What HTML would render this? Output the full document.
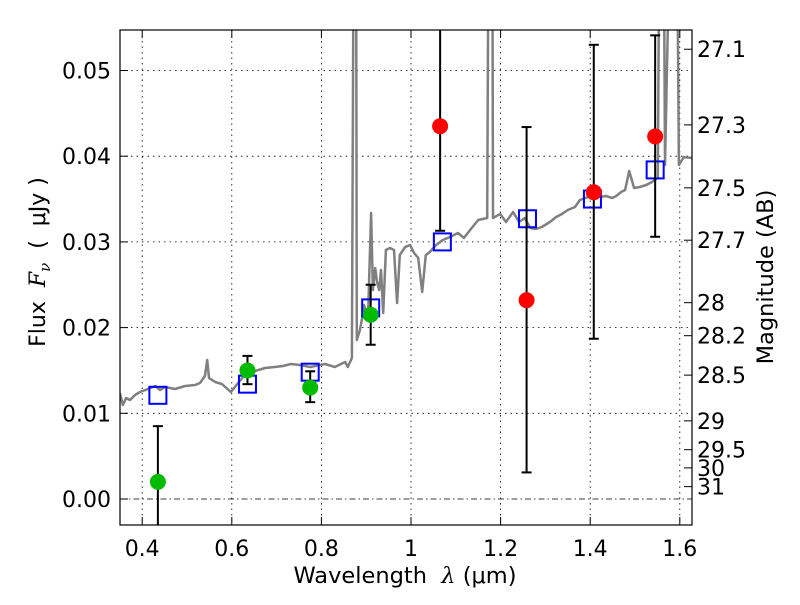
<!DOCTYPE html>
<html><head><meta charset="utf-8"><style>
body{margin:0;background:#fff}
svg text{font-family:"DejaVu Sans","Liberation Sans",sans-serif;fill:#000}
</style></head><body>
<svg id="chart" width="800" height="600" xmlns="http://www.w3.org/2000/svg">
<defs><clipPath id="pc"><rect x="120" y="30" width="572" height="495"/></clipPath></defs>
<rect width="800" height="600" fill="#fff"/>
<g id="grid"></g>
<g id="spec" clip-path="url(#pc)"></g>
<g id="marks" clip-path="url(#pc)"></g>
<rect x="120" y="30" width="572" height="495" fill="none" stroke="#000" stroke-width="1.2"/>
<g id="axes"></g>
<text x="45" y="262" font-size="22" text-anchor="middle" transform="rotate(-90 45 262)">Flux&#160;&#160;<tspan font-family="DejaVu Serif" font-style="italic">F</tspan><tspan font-family="DejaVu Serif" font-style="italic" font-size="15" dy="5">ν</tspan><tspan dy="-5">&#160;&#160;(&#160;&#160;μJy&#160;)</tspan></text>
<text x="405" y="583" font-size="22.5" text-anchor="middle">Wavelength&#160;&#160;<tspan font-family="DejaVu Serif" font-style="italic">λ</tspan>&#160;(μm)</text>
<text x="773" y="277" font-size="22.5" text-anchor="middle" transform="rotate(-90 773 277)">Magnitude (AB)</text>
</svg>
<script>
const specLam=[0.350,0.357,0.364,0.373,0.384,0.395,0.413,0.429,0.440,0.451,0.473,0.496,0.518,0.529,0.540,0.545,0.549,0.563,0.578,0.598,0.614,0.629,0.652,0.674,0.696,0.714,0.732,0.752,0.775,0.808,0.830,0.853,0.859,0.868,0.873,0.877,0.879,0.886,0.891,0.895,0.904,0.911,0.915,0.920,0.924,0.929,0.933,0.938,0.944,0.953,0.962,0.969,0.975,0.987,0.998,1.007,1.016,1.025,1.033,1.042,1.056,1.071,1.087,1.105,1.118,1.132,1.150,1.170,1.174,1.181,1.183,1.199,1.212,1.228,1.241,1.254,1.266,1.279,1.292,1.310,1.324,1.337,1.350,1.366,1.377,1.395,1.408,1.422,1.435,1.449,1.458,1.469,1.478,1.487,1.498,1.511,1.525,1.538,1.551,1.556,1.563,1.567,1.583,1.592,1.598,1.609,1.627];
const specFlux=[0.01237,0.01097,0.01179,0.01155,0.01214,0.01249,0.01284,0.01319,0.01272,0.01307,0.01284,0.01319,0.0133,0.01354,0.01435,0.01622,0.01412,0.01365,0.01342,0.01249,0.01354,0.01447,0.01494,0.01529,0.0154,0.01552,0.01575,0.01564,0.0154,0.01575,0.0154,0.01599,0.0154,0.01645,0.08,0.08,0.01855,0.01972,0.02112,0.02264,0.02112,0.03337,0.02439,0.02695,0.02532,0.02439,0.02672,0.0217,0.02905,0.02929,0.02905,0.02287,0.02847,0.0294,0.02964,0.0287,0.02812,0.02415,0.02847,0.02882,0.02964,0.03022,0.03057,0.03104,0.03046,0.03139,0.03256,0.03279,0.08,0.08,0.03279,0.03326,0.03232,0.03349,0.03232,0.03279,0.03162,0.0315,0.03174,0.03232,0.03291,0.03326,0.03372,0.03407,0.03489,0.03524,0.03582,0.03524,0.03536,0.03512,0.03536,0.03582,0.03606,0.03827,0.03629,0.03641,0.03664,0.03699,0.03746,0.08,0.08,0.03897,0.08,0.08,0.03897,0.0399,0.03979];
const greenLam=[0.435,0.635,0.775,0.910];
const greenFlux=[0.0020,0.0150,0.0130,0.0215];
const greenLo=[-0.01,0.0134,0.0113,0.0180];
const greenHi=[0.0085,0.0167,0.0149,0.0250];
const redLam=[1.065,1.258,1.408,1.545];
const redFlux=[0.0435,0.0232,0.0358,0.0423];
const redLo=[0.0313,0.0031,0.0187,0.0306];
const redHi=[0.08,0.0434,0.0530,0.0541];
const modelLam=[0.435,0.635,0.775,0.910,1.070,1.260,1.405,1.545];
const modelFlux=[0.0121,0.0134,0.0148,0.0223,0.0300,0.0327,0.0350,0.0384];
const xTicks=[0.4,0.6,0.8,1.0,1.2,1.4,1.6];
const xTickLabels=["0.4","0.6","0.8","1","1.2","1.4","1.6"];
const yTicks=[0,0.01,0.02,0.03,0.04,0.05];
const yTickLabels=["0.00","0.01","0.02","0.03","0.04","0.05"];
const magTicks=[27.1,27.3,27.5,27.7,28,28.2,28.5,29,29.5,30,31];
const magLabels=["27.1","27.3","27.5","27.7","28","28.2","28.5","29","29.5","30","31"];

const X=l=>411+(l-1)*448;
const Y=f=>499-f*8570;
const NS="http://www.w3.org/2000/svg";
function mk(tag,attrs,parent){const e=document.createElementNS(NS,tag);for(const k in attrs)e.setAttribute(k,attrs[k]);parent.appendChild(e);return e;}
const grid=document.getElementById('grid'),spec=document.getElementById('spec'),marks=document.getElementById('marks'),axes=document.getElementById('axes');

xTicks.forEach((t,i)=>{
  const g=mk('line',{x1:X(t),x2:X(t),y1:30,y2:525,stroke:'#000','stroke-width':0.8,'stroke-dasharray':'1.5,4'},grid);
  
  
  mk('line',{x1:X(t),x2:X(t),y1:525,y2:517,stroke:'#000','stroke-width':1},axes);
  mk('line',{x1:X(t),x2:X(t),y1:30,y2:38,stroke:'#000','stroke-width':1},axes);
  const tx=mk('text',{x:X(t),y:556,'font-size':22,'text-anchor':'middle'},axes);
  tx.textContent=xTickLabels[i];
  
  
});
yTicks.forEach((t,i)=>{
  const g=mk('line',{x1:120,x2:692,y1:Y(t),y2:Y(t),stroke:'#000','stroke-width':0.8,'stroke-dasharray':t===0?'6,3,1.5,3':'1.5,4'},grid);
  
  
  mk('line',{x1:120,x2:128,y1:Y(t),y2:Y(t),stroke:'#000','stroke-width':1},axes);
  const tx=mk('text',{x:111,y:Y(t)+8,'font-size':22,'text-anchor':'end'},axes);
  tx.textContent=yTickLabels[i];
  
  
});
magTicks.forEach((m,i)=>{
  const f=Math.pow(10,(23.9-m)/2.5);
  const y=Y(f);
  mk('line',{x1:684,x2:692,y1:y,y2:y,stroke:'#000','stroke-width':1},axes);
  const tx=mk('text',{x:697,y:y+8,'font-size':22},axes);
  tx.textContent=magLabels[i];
  
  
});

const pts=specLam.map((l,i)=>X(l).toFixed(1)+','+Y(specFlux[i]).toFixed(1)).join(' ');
const pl=mk('polyline',{points:pts,fill:'none',stroke:'#808080','stroke-width':2.5,'stroke-linejoin':'round'},spec);



function errbar(l,lo,hi){
  mk('line',{x1:X(l),x2:X(l),y1:Y(lo),y2:Y(hi),stroke:'#000','stroke-width':2},marks);
  [lo,hi].forEach(v=>mk('line',{x1:X(l)-5,x2:X(l)+5,y1:Y(v),y2:Y(v),stroke:'#000','stroke-width':2},marks));
}
modelLam.forEach((l,i)=>{
  const r=mk('rect',{x:X(l)-8.5,y:Y(modelFlux[i])-8.5,width:17,height:17,fill:'none',stroke:'#0000ff','stroke-width':2},marks);
  
  
});
greenLam.forEach((l,i)=>{
  errbar(l,greenLo[i],greenHi[i]);
  const c=mk('circle',{cx:X(l),cy:Y(greenFlux[i]),r:8,fill:'#00bb00'},marks);
  
  
});
redLam.forEach((l,i)=>{
  errbar(l,redLo[i],redHi[i]);
  const c=mk('circle',{cx:X(l),cy:Y(redFlux[i]),r:8,fill:'#ff0000'},marks);
  
  
});
</script>
</body></html>
